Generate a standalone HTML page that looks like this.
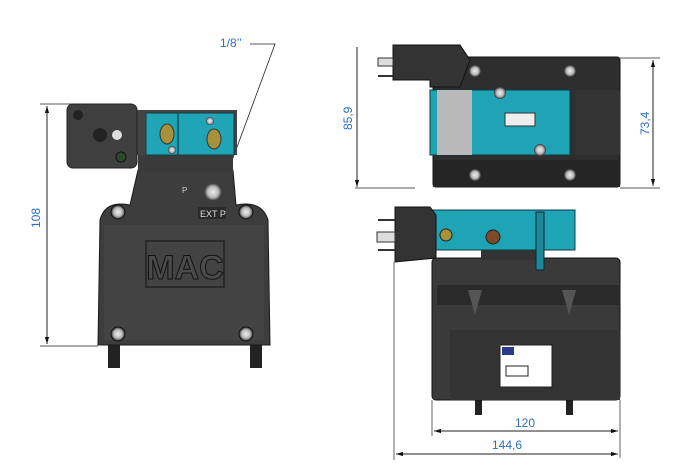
<!DOCTYPE html>
<html><head><meta charset="utf-8"><style>
html,body{margin:0;padding:0;background:#fff;width:683px;height:467px;overflow:hidden}
svg text{font-family:"Liberation Sans",sans-serif}
</style></head><body>
<svg width="683" height="467" viewBox="0 0 683 467" xmlns="http://www.w3.org/2000/svg">
<defs>
<marker id="a" viewBox="0 0 10 10" refX="10" refY="5" markerWidth="7" markerHeight="7" orient="auto-start-reverse"><path d="M0,2 L10,5 L0,8 z" fill="#111"/></marker>
<radialGradient id="bolt"><stop offset="0" stop-color="#eee"/><stop offset="0.6" stop-color="#bbb"/><stop offset="1" stop-color="#333"/></radialGradient>
</defs>
<g stroke="#222" stroke-width="1" fill="none">
<!-- left view dims -->
<line x1="40" y1="104" x2="95" y2="104" stroke-width="0.7"/>
<line x1="40" y1="346" x2="98" y2="346" stroke-width="0.7"/>
<line x1="47" y1="106" x2="47" y2="344" marker-start="url(#a)" marker-end="url(#a)"/>
<polyline points="250,44 275,44 233,158" stroke-width="0.8"/>
<!-- right dims -->
<line x1="357" y1="47" x2="357" y2="187" marker-end="url(#a)"/>
<line x1="355" y1="188" x2="415" y2="188" stroke-width="0.7"/>
<line x1="620" y1="58" x2="660" y2="58" stroke-width="0.7"/>
<line x1="620" y1="188" x2="660" y2="188" stroke-width="0.7"/>
<line x1="653" y1="60" x2="653" y2="186" marker-start="url(#a)" marker-end="url(#a)"/>
<line x1="394" y1="262" x2="394" y2="460" stroke-width="0.7"/>
<line x1="432" y1="400" x2="432" y2="436" stroke-width="0.7"/>
<line x1="620" y1="400" x2="620" y2="458" stroke-width="0.7"/>
<line x1="434" y1="431" x2="618" y2="431" marker-start="url(#a)" marker-end="url(#a)"/>
<line x1="396" y1="454" x2="618" y2="454" marker-start="url(#a)" marker-end="url(#a)"/>
</g>
<g fill="#2d6fc0" font-size="12">
<text x="220" y="47">1/8’’</text>
<text transform="translate(40,228) rotate(-90)">108</text>
<text transform="translate(352,130) rotate(-90)">85,9</text>
<text transform="translate(649,135) rotate(-90)">73,4</text>
<text x="515" y="427">120</text>
<text x="492" y="449">144,6</text>
</g>

<!-- LEFT VIEW -->
<rect x="108" y="340" width="12" height="28" fill="#222"/>
<rect x="250" y="340" width="12" height="28" fill="#222"/>
<path d="M138,170 Q185,160 233,170 L236,205 Q262,200 268,220 L270,345 L98,345 L100,220 Q105,200 130,205 Z" fill="#3d3d3d" stroke="#1a1a1a"/>
<path d="M104,225 L264,225 L264,340 L104,340 Z" fill="#474747" opacity="0.6"/>
<rect x="146" y="241" width="78" height="46" fill="none" stroke="#222" stroke-width="1.5"/>
<text x="185" y="279" font-size="34" text-anchor="middle" fill="#4a4a4a" stroke="#111" stroke-width="1" font-weight="bold">MAC</text>
<text x="182" y="193" font-size="8" fill="#ccc">P</text>
<rect x="198" y="207" width="28" height="12" fill="#2a2a2a"/>
<text x="200" y="217" font-size="9" fill="#ddd">EXT P</text>
<circle cx="213" cy="192" r="9" fill="url(#bolt)"/>
<circle cx="118" cy="212" r="7" fill="url(#bolt)" stroke="#111"/>
<circle cx="246" cy="212" r="7" fill="url(#bolt)" stroke="#111"/>
<circle cx="118" cy="334" r="7" fill="url(#bolt)" stroke="#111"/>
<circle cx="246" cy="334" r="7" fill="url(#bolt)" stroke="#111"/>
<rect x="138" y="150" width="95" height="22" fill="#3a3a3a"/>
<rect x="137" y="110" width="100" height="45" fill="#444"/>
<rect x="146" y="113" width="88" height="42" fill="#1fa5b6" stroke="#1a3a40"/>
<line x1="178" y1="113" x2="178" y2="155" stroke="#123"/>
<ellipse cx="167" cy="134" rx="7" ry="10" fill="#a7913b" stroke="#333"/>
<ellipse cx="214" cy="139" rx="7" ry="10" fill="#a7913b" stroke="#333"/>
<circle cx="172" cy="150" r="4" fill="url(#bolt)"/>
<circle cx="210" cy="121" r="4" fill="url(#bolt)"/>
<rect x="67" y="104" width="70" height="64" rx="6" fill="#3f3f3f" stroke="#222"/>
<circle cx="78" cy="115" r="5" fill="#222"/>
<circle cx="100" cy="135" r="7" fill="#222"/>
<circle cx="117" cy="135" r="5" fill="#ddd"/>
<circle cx="121" cy="157" r="5" fill="#2a4a2a" stroke="#111"/>

<!-- TOP VIEW (right) -->
<rect x="433" y="57" width="187" height="130" rx="3" fill="#2e2e2e" stroke="#111"/>
<rect x="433" y="160" width="187" height="27" fill="#252525"/>
<rect x="575" y="90" width="45" height="65" fill="#333"/>
<rect x="430" y="90" width="140" height="65" fill="#1ea4b5" stroke="#0d3b44"/>
<rect x="437" y="90" width="35" height="65" fill="#b9b9b9"/>
<rect x="505" y="113" width="30" height="13" fill="#eee" stroke="#333"/>
<path d="M393,45 L460,45 L470,60 L460,87 L430,87 L430,80 L393,80 Z" fill="#333" stroke="#111"/>
<rect x="378" y="58" width="15" height="8" fill="#ddd" stroke="#333"/>
<line x1="378" y1="76" x2="393" y2="76" stroke="#333" stroke-width="2"/>
<g fill="url(#bolt)">
<circle cx="475" cy="71" r="6"/><circle cx="570" cy="71" r="6"/>
<circle cx="500" cy="93" r="6"/><circle cx="540" cy="150" r="6"/>
<circle cx="475" cy="175" r="6"/><circle cx="570" cy="175" r="6"/>
</g>

<!-- SIDE VIEW -->
<rect x="475" y="395" width="7" height="20" fill="#222"/>
<rect x="566" y="395" width="7" height="20" fill="#222"/>
<rect x="432" y="258" width="188" height="142" rx="4" fill="#3a3a3a" stroke="#111"/>
<rect x="450" y="330" width="170" height="70" fill="#333"/>
<rect x="437" y="285" width="183" height="20" fill="#2a2a2a"/>
<path d="M468,290 L482,290 L475,315 Z" fill="#555"/>
<path d="M562,290 L576,290 L569,315 Z" fill="#555"/>
<rect x="500" y="345" width="52" height="42" fill="#fff" stroke="#222"/>
<rect x="502" y="347" width="12" height="8" fill="#2b3a8a"/>
<rect x="506" y="366" width="22" height="10" fill="none" stroke="#222"/>
<rect x="481" y="245" width="60" height="15" fill="#333"/>
<rect x="432" y="210" width="143" height="40" fill="#1ea4b5" stroke="#0d3b44"/>
<rect x="536" y="212" width="8" height="58" fill="#1a8a99" stroke="#123"/>
<circle cx="446" cy="235" r="6" fill="#a7913b" stroke="#222"/>
<circle cx="493" cy="237" r="7" fill="#7a4a2a" stroke="#222"/>
<path d="M395,207 L430,207 L436,215 L436,258 L395,262 Z" fill="#333" stroke="#111"/>
<rect x="377" y="232" width="18" height="10" fill="#ddd" stroke="#333"/>
<line x1="378" y1="220" x2="395" y2="220" stroke="#333" stroke-width="2"/>
<line x1="378" y1="250" x2="395" y2="250" stroke="#333" stroke-width="2"/>
</g>
</svg>
</body></html>
